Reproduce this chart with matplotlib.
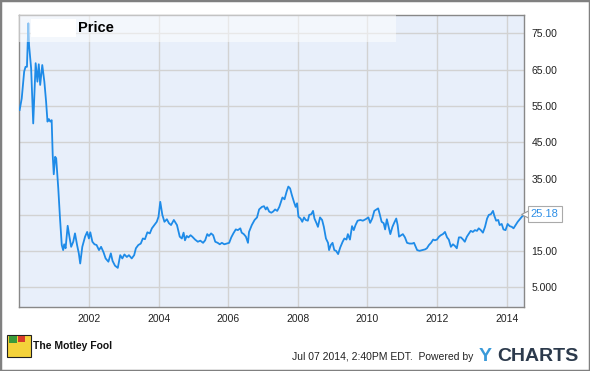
import matplotlib
matplotlib.use("Agg")
import matplotlib.pyplot as plt
from matplotlib.patches import Rectangle

plt.rcParams['font.family'] = ['Liberation Sans', 'DejaVu Sans']

# price series (decimal year, price)
years = [
    2000.01, 2000.07, 2000.14, 2000.18, 2000.22, 2000.26, 2000.28, 2000.34, 2000.40,
    2000.47, 2000.52, 2000.56, 2000.60, 2000.66, 2000.72, 2000.77, 2000.81, 2000.85,
    2000.89, 2000.93, 2000.96, 2000.99, 2001.03, 2001.06, 2001.12, 2001.17, 2001.22,
    2001.26, 2001.29, 2001.33, 2001.39, 2001.44, 2001.49, 2001.55, 2001.60, 2001.66,
    2001.71, 2001.75, 2001.81, 2001.89, 2001.95, 2002.00, 2002.04, 2002.10, 2002.16,
    2002.22, 2002.29, 2002.35, 2002.42, 2002.48, 2002.56, 2002.63, 2002.68, 2002.75,
    2002.83, 2002.90, 2002.96, 2003.02, 2003.09, 2003.15, 2003.23, 2003.30, 2003.35,
    2003.42, 2003.49, 2003.55, 2003.61, 2003.68, 2003.75, 2003.81, 2003.88, 2003.95,
    2004.00, 2004.05, 2004.11, 2004.17, 2004.24, 2004.30, 2004.36, 2004.44, 2004.53,
    2004.61, 2004.67, 2004.72, 2004.76, 2004.81, 2004.86, 2004.92, 2004.97, 2005.05,
    2005.13, 2005.20, 2005.28, 2005.34, 2005.40, 2005.45, 2005.51, 2005.57, 2005.63,
    2005.70, 2005.76, 2005.82, 2005.89, 2005.96, 2006.03, 2006.09, 2006.15, 2006.22,
    2006.28, 2006.35, 2006.39, 2006.45, 2006.51, 2006.57, 2006.60, 2006.68, 2006.76,
    2006.83, 2006.89, 2006.97, 2007.03, 2007.08, 2007.12, 2007.18, 2007.24, 2007.29,
    2007.35, 2007.41, 2007.47, 2007.52, 2007.56, 2007.62, 2007.68, 2007.73, 2007.78,
    2007.83, 2007.89, 2007.94, 2007.98, 2008.02, 2008.08, 2008.13, 2008.18, 2008.23,
    2008.29, 2008.33, 2008.39, 2008.44, 2008.48, 2008.54, 2008.58, 2008.64, 2008.70,
    2008.75, 2008.81, 2008.87, 2008.90, 2008.95, 2009.00, 2009.05, 2009.10, 2009.16,
    2009.22, 2009.29, 2009.34, 2009.40, 2009.44, 2009.50, 2009.56, 2009.61, 2009.66,
    2009.72, 2009.80, 2009.87, 2009.95, 2010.03, 2010.08, 2010.14, 2010.20, 2010.26,
    2010.31, 2010.35, 2010.41, 2010.47, 2010.51, 2010.56, 2010.61, 2010.66, 2010.72,
    2010.77, 2010.83, 2010.87, 2010.91, 2010.97, 2011.02, 2011.08, 2011.14, 2011.21,
    2011.29, 2011.34, 2011.43, 2011.50, 2011.58, 2011.66, 2011.71, 2011.77, 2011.83,
    2011.89, 2011.94, 2012.00, 2012.06, 2012.11, 2012.17, 2012.23, 2012.29, 2012.34,
    2012.40, 2012.46, 2012.52, 2012.57, 2012.63, 2012.69, 2012.75, 2012.80, 2012.86,
    2012.92, 2012.97, 2013.03, 2013.09, 2013.15, 2013.20, 2013.26, 2013.32, 2013.38,
    2013.44, 2013.49, 2013.55, 2013.61, 2013.65, 2013.70, 2013.76, 2013.80, 2013.86,
    2013.91, 2013.97, 2014.03, 2014.09, 2014.15, 2014.20, 2014.26, 2014.32, 2014.38,
    2014.44, 2014.50, 2014.51,
]
prices = [
    53.9, 57.1, 64.5, 65.8, 65.8, 77.8, 71.8, 65.4, 50.2,
    66.8, 61.7, 66.5, 60.8, 66.3, 61.7, 56.2, 50.7, 51.4,
    50.7, 51.1, 41.5, 36.2, 41.0, 40.6, 32.3, 24.0, 16.7,
    15.3, 16.9, 15.8, 22.0, 19.0, 16.2, 17.6, 19.9, 16.7,
    14.4, 11.6, 16.2, 19.0, 20.3, 18.5, 20.2, 17.6, 16.9,
    16.7, 15.3, 16.2, 14.7, 13.0, 12.1, 14.4, 12.3, 11.0,
    10.4, 13.9, 13.0, 14.1, 13.4, 13.9, 13.0, 13.9, 15.8,
    16.7, 17.1, 18.5, 18.3, 20.2, 19.9, 21.3, 22.2, 23.1,
    24.5, 28.6, 25.0, 23.1, 23.8, 22.7, 22.2, 23.6, 22.2,
    19.0, 18.5, 20.1, 18.0, 19.2, 18.8, 19.4, 19.0, 18.2,
    17.6, 17.9, 17.3, 18.0, 19.7, 19.2, 19.9, 19.4, 17.6,
    17.3, 16.9, 17.3, 16.9, 17.1, 17.3, 18.8, 19.9, 21.0,
    20.8, 21.3, 20.1, 19.7, 19.0, 17.3, 20.3, 22.2, 23.6,
    24.3, 26.5, 27.2, 27.4, 26.5, 27.1, 25.9, 25.6, 25.9,
    26.5, 26.1, 27.2, 28.6, 29.8, 29.3, 31.4, 32.8, 32.3,
    30.5, 28.6, 27.2, 28.2, 24.5, 24.0, 23.1, 24.3, 23.6,
    23.4, 25.0, 25.2, 26.1, 24.0, 22.7, 21.7, 24.3, 23.6,
    21.7, 18.5, 17.3, 15.3, 16.7, 17.3, 15.3, 15.1, 14.2,
    16.0, 17.6, 18.5, 18.2, 19.7, 18.2, 21.9, 20.8, 22.2,
    23.4, 23.6, 23.4, 23.8, 24.3, 22.8, 24.0, 26.1, 26.5,
    26.8, 25.4, 23.1, 22.7, 21.0, 23.8, 21.7, 19.7, 21.7,
    22.8, 24.0, 22.2, 19.0, 19.4, 19.7, 18.8, 17.3, 17.1,
    17.1, 17.3, 15.3, 15.1, 15.3, 15.5, 15.8, 16.7, 17.3,
    18.2, 18.0, 18.2, 19.0, 19.4, 19.7, 20.3, 18.8, 18.2,
    16.2, 16.9, 16.4, 15.8, 18.8, 18.8, 18.2, 17.6, 19.0,
    19.9, 20.6, 20.3, 20.8, 20.6, 21.3, 20.8, 20.1, 21.7,
    24.0, 25.0, 25.2, 26.1, 24.7, 23.4, 23.6, 22.2, 22.5,
    21.0, 20.8, 22.5, 21.9, 21.7, 21.3, 22.2, 23.1, 23.8,
    24.5, 25.0, 25.18,
]

xtick_years = [2002, 2004, 2006, 2008, 2010, 2012, 2014]
ytick_values = [5, 15, 25, 35, 45, 55, 65, 75]
ytick_labels = ["5.000", "15.00", "", "35.00", "45.00", "55.00", "65.00", "75.00"]
last_label = "25.18"

fig = plt.figure(figsize=(5.9, 3.71), dpi=100)
ax = fig.add_axes([0.0327, 0.1733, 0.856, 0.7855])
ax.set_facecolor('#e8effa')

ax.plot(years, prices, color='#1e8be8', lw=1.3, zorder=3)

ax.set_xlim(2000.0, 2014.51)
ax.set_ylim(-0.3, 80.0)
ax.set_xticks(xtick_years)
ax.set_xticklabels([str(y) for y in xtick_years])
ax.set_yticks(ytick_values)
ax.set_yticklabels(ytick_labels)
ax.yaxis.tick_right()
ax.tick_params(length=0, labelsize=7.5, labelcolor='#222222')
ax.tick_params(axis='y', pad=5)
ax.tick_params(axis='x', pad=5)
for lbl in ax.get_yticklabels():
    lbl.set_horizontalalignment('left')
ax.grid(True, color='#d2d2d2', lw=1.0, zorder=1)
ax.set_axisbelow(True)
for s in ax.spines.values():
    s.set_color('#888888')
    s.set_linewidth(1.0)

# faded title band and label box
ax.add_patch(Rectangle((0, 0.908), 0.746, 0.092, transform=ax.transAxes,
                       facecolor='white', alpha=0.5, lw=0, zorder=4))
ax.add_patch(Rectangle((0.023, 0.9255), 0.089, 0.0615, transform=ax.transAxes,
                       facecolor='white', lw=0, zorder=5))
ax.text(0.116, 0.957, "Price", transform=ax.transAxes, fontsize=10.5,
        fontweight='bold', ha='left', va='center', color='black', zorder=6)

# last value tag
ax.plot([years[-1] + 0.03], [prices[-1]], marker='<', ms=6, mfc='white',
        mec='#999999', mew=0.8, clip_on=False, zorder=7)
ax.text(1.013, prices[-1], last_label, transform=ax.get_yaxis_transform(),
        fontsize=8, color='#2e8fe6', ha='left', va='center', zorder=8,
        bbox=dict(boxstyle='square,pad=0.25', facecolor='white',
                  edgecolor='#aaaaaa', lw=0.8))

# footer
fig.patches.append(Rectangle((0.012, 0.037), 0.041, 0.06, transform=fig.transFigure,
                             facecolor='#f4d23a', edgecolor='#222222', lw=0.8))
fig.patches.append(Rectangle((0.016, 0.075), 0.012, 0.018, transform=fig.transFigure,
                             facecolor='#3a9a3a', lw=0))
fig.patches.append(Rectangle((0.03, 0.078), 0.012, 0.016, transform=fig.transFigure,
                             facecolor='#d83a2a', lw=0))
fig.text(0.056, 0.067, "The Motley Fool", fontsize=7.5, fontweight='bold',
         family=['Liberation Sans Narrow', 'Liberation Sans'], ha='left',
         va='center', color='#111111')
fig.text(0.803, 0.038, "Jul 07 2014, 2:40PM EDT.  Powered by", fontsize=7.5,
         ha='right', va='center', color='#222222')
fig.text(0.811, 0.038, "Y", fontsize=14, fontweight='bold', ha='left',
         va='center', color='#3a9ad9')
fig.text(0.843, 0.038, "CHARTS", fontsize=14, fontweight='bold', ha='left',
         va='center', color='#2c3a4c')

fig.patches.append(Rectangle((0, 0), 1, 1, transform=fig.transFigure,
                             fill=False, edgecolor='#808080', lw=2.5))

fig.savefig('out.png', dpi=100)
